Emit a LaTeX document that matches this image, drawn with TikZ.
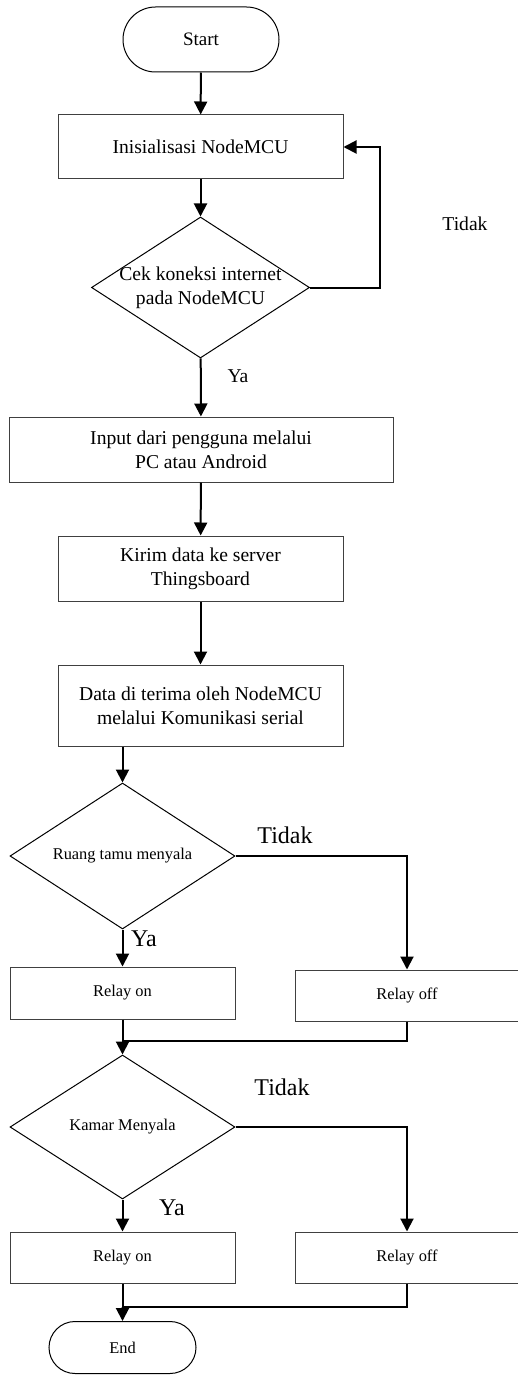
\documentclass[tikz,border=0pt]{standalone}
\usepackage{fontspec}
\setmainfont{Liberation Serif}
\usetikzlibrary{shapes.geometric,shapes.misc,arrows.meta}

\begin{document}
\begin{tikzpicture}[x=0.5pt,y=-0.5pt,
	proses/.style={draw=black!75,line width=0.5pt,rectangle,align=center,inner sep=0pt,font=\fontsize{9.8}{12}\selectfont},
	kecil/.style={font=\fontsize{8.2}{10}\selectfont},
	keputusan/.style={draw,line width=0.5pt,diamond,aspect=1.55,inner sep=-2pt,align=center,font=\fontsize{9.8}{12}\selectfont},
	terminal/.style={draw,line width=0.5pt,rounded rectangle,inner sep=0pt},
	alur/.style={line width=1pt,-{Triangle[width=6.5pt,length=6.5pt]}},
	garis/.style={line width=1pt},
	besar/.style={font=\fontsize{12}{14}\selectfont}]
			\useasboundingbox (0,0) rectangle (518,1375);
			% bagian atas
			\node[terminal,minimum width=78pt,minimum height=32.5pt,font=\fontsize{9.5}{11}\selectfont] (start) at (201,39.5) {Start};
			\node[proses,minimum width=142.5pt,minimum height=32pt] (init) at (200.5,147) {Inisialisasi NodeMCU};
			\node[keputusan,minimum width=109pt,minimum height=70.5pt] (cek) at (200.5,287.5) {Cek koneksi internet\\pada NodeMCU};
			\node[proses,minimum width=192pt,minimum height=32.5pt] (input) at (201,449.5) {Input dari pengguna melalui\\PC atau Android};
			\node[proses,minimum width=142.5pt,minimum height=32.5pt] (kirim) at (200.5,568.5) {Kirim data ke server\\Thingsboard};
			\node[proses,minimum width=142.5pt,minimum height=40.5pt] (terima) at (200.5,705.5) {Data di terima oleh NodeMCU\\melalui Komunikasi serial};
			\draw[alur] (start) -- (init);
			\draw[alur] (init) -- (cek);
			\draw[alur] (cek.east) -- ++(70,0) |- (init.east);
			\draw[alur] (cek) -- (input);
			\draw[alur] (input) -- (kirim);
			\draw[alur] (kirim) -- (terima);
			\node[font=\fontsize{9.8}{12}\selectfont] (tidak1) at (465,224) {Tidak};
			\node[font=\fontsize{9.8}{12}\selectfont] (ya1) at (238,376) {Ya};
			% ruang tamu
			\node[keputusan,kecil,minimum width=112.5pt,minimum height=73pt] (tamu) at (122.5,856) {Ruang tamu menyala};
			\node[proses,kecil,minimum width=112.5pt,minimum height=26pt] (on1) at (122.5,993) {Relay on};
			\node[proses,kecil,minimum width=112pt,minimum height=25.5pt] (off1) at (407,995.5) {Relay off};
			\coordinate (gabung1) at (122.5,1041);
			\draw[alur] (tamu.north |- terima.south) -- (tamu.north);
			\draw[alur] (tamu) -- (on1);
			\draw[alur] (tamu.east) -| (off1.north);
			\draw[garis] (on1.south) -- (gabung1);
			\draw[garis] (off1.south) |- (gabung1);
			\node[besar] (tidak2) at (285,835) {Tidak};
			\node[besar] (ya2) at (144,939) {Ya};
			% kamar
			\node[keputusan,kecil,minimum width=112.5pt,minimum height=72pt] (kamar) at (122.5,1127) {Kamar Menyala};
			\node[proses,kecil,minimum width=112.5pt,minimum height=25.5pt] (on2) at (122.5,1257.5) {Relay on};
			\node[proses,kecil,minimum width=112pt,minimum height=25.5pt] (off2) at (407,1257.5) {Relay off};
			\coordinate (gabung2) at (122.5,1307);
			\draw[alur] (gabung1) -- (kamar.north);
			\draw[alur] (kamar) -- (on2);
			\draw[alur] (kamar.east) -| (off2.north);
			\draw[garis] (on2.south) -- (gabung2);
			\draw[garis] (off2.south) |- (gabung2);
			\node[besar] (tidak3) at (282,1087) {Tidak};
			\node[besar] (ya3) at (172,1208) {Ya};
			% akhir
			\node[terminal,kecil,minimum width=73.5pt,minimum height=26pt] (end) at (122.5,1347.5) {End};
			\draw[alur] (gabung2) -- (end);
\end{tikzpicture}
\end{document}
